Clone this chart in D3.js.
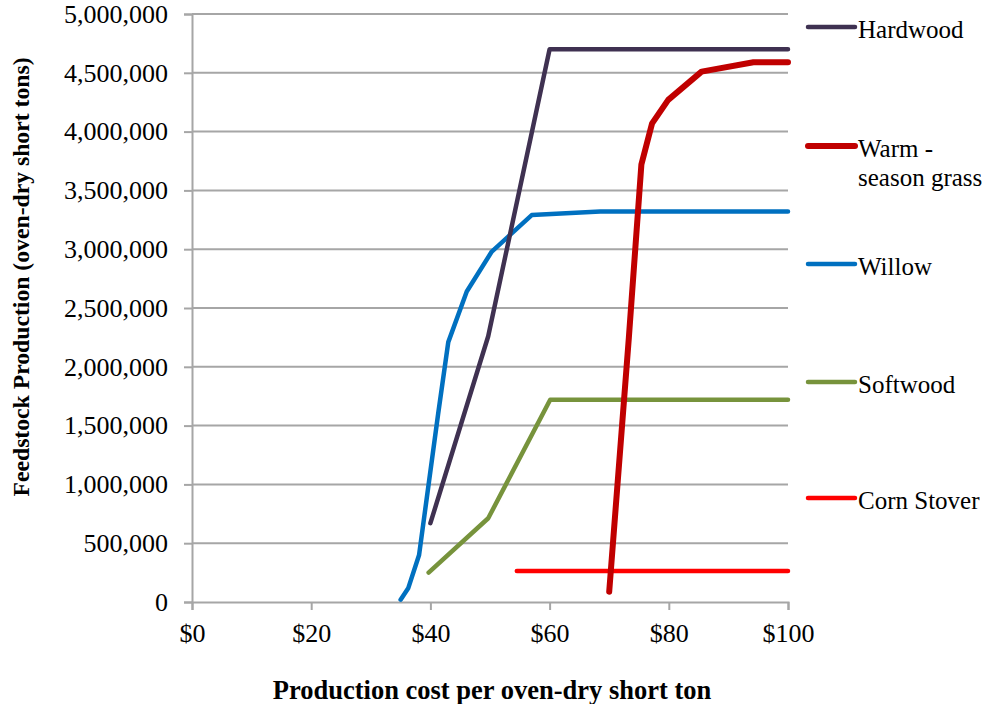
<!DOCTYPE html>
<html><head><meta charset="utf-8">
<script src="https://cdn.jsdelivr.net/npm/d3@7"></script>
<style>body{margin:0;background:#fff}svg{display:block}text{font-family:"Liberation Serif","Times New Roman",serif;fill:#000}</style>
</head><body><svg id="c" width="994" height="704"></svg>
<script>
const seriesNames = ["Hardwood", "Warm - season grass", "Willow", "Softwood", "Corn Stover"];
const seriesColors = ["#3f3151", "#c00000", "#0070c0", "#77933c", "#ff0000"];
const hardwoodX = [40, 49.7, 60, 100];
const hardwoodY = [670000, 2260000, 4700000, 4700000];
const warmX = [70, 73.3, 75.4, 77.2, 79.9, 85.5, 94.2, 100];
const warmY = [88000, 2250000, 3720000, 4070000, 4270000, 4510000, 4590000, 4590000];
const willowX = [35, 36.3, 38.1, 41.3, 43, 46.1, 50.3, 57, 68.5, 100];
const willowY = [20000, 120000, 400000, 1600000, 2210000, 2640000, 2980000, 3290000, 3320000, 3320000];
const softwoodX = [39.7, 49.7, 60.1, 100];
const softwoodY = [250000, 712000, 1720000, 1720000];
const cornX = [54.5, 100];
const cornY = [264000, 264000];
const xTicks = [0, 20, 40, 60, 80, 100];
const yTicks = [0, 500000, 1000000, 1500000, 2000000, 2500000, 3000000, 3500000, 4000000, 4500000, 5000000];

const svg = d3.select("#c");
const x = d3.scaleLinear().domain([0, 100]).range([192, 788]);
const y = d3.scaleLinear().domain([0, 5000000]).range([602, 14]);
const grey = "#a6a6a6";

// gridlines
svg.append("g").selectAll("line").data(yTicks.filter(d => d > 0)).join("line")
  .attr("x1", x(0)).attr("x2", x(100)).attr("y1", d => y(d)).attr("y2", d => y(d))
  .attr("stroke", grey).attr("stroke-width", 2);

// y axis
const yAxis = svg.append("g").attr("transform", `translate(${x(0)},0)`)
  .call(d3.axisLeft(y).tickValues(yTicks).tickFormat(d3.format(",")).tickSize(8).tickPadding(16));
yAxis.attr("font-family", null);
yAxis.select(".domain").attr("stroke", grey).attr("stroke-width", 2);
yAxis.selectAll(".tick line").attr("stroke", grey).attr("stroke-width", 2);
yAxis.selectAll(".tick text").attr("font-size", 26).attr("fill", "#000");

// x axis
const xAxis = svg.append("g").attr("transform", `translate(0,${y(0)})`)
  .call(d3.axisBottom(x).tickValues(xTicks).tickFormat(d => "$" + d).tickSize(8).tickPadding(14));
xAxis.attr("font-family", null);
xAxis.select(".domain").attr("stroke", grey).attr("stroke-width", 2);
xAxis.selectAll(".tick line").attr("stroke", grey).attr("stroke-width", 2);
xAxis.selectAll(".tick text").attr("font-size", 26).attr("fill", "#000");

// titles
svg.append("text").attr("x", 492).attr("y", 699).attr("text-anchor", "middle")
  .attr("font-size", 26.5).attr("font-weight", "bold").text("Production cost per oven-dry short ton");
svg.append("text").attr("transform", "translate(29,277) rotate(-90)").attr("text-anchor", "middle")
  .attr("font-size", 23.7).attr("font-weight", "bold").text("Feedstock Production (oven-dry short tons)");

// series
const series = [
  {xs: willowX, ys: willowY, c: seriesColors[2], w: 4.5},
  {xs: softwoodX, ys: softwoodY, c: seriesColors[3], w: 4.5},
  {xs: cornX, ys: cornY, c: seriesColors[4], w: 4.5},
  {xs: hardwoodX, ys: hardwoodY, c: seriesColors[0], w: 4.5},
  {xs: warmX, ys: warmY, c: seriesColors[1], w: 6}
];
const line = d3.line().x(d => x(d[0])).y(d => y(d[1]));
series.forEach(s => {
  svg.append("path").datum(s.xs.map((v, i) => [v, s.ys[i]]))
    .attr("d", line).attr("fill", "none").attr("stroke", s.c)
    .attr("stroke-width", s.w).attr("stroke-linecap", "round").attr("stroke-linejoin", "round");
});

// legend
const legY = [27, 146, 264, 382, 498];
const lg = svg.append("g");
seriesNames.forEach((n, i) => {
  lg.append("line").attr("x1", 808).attr("x2", 855).attr("y1", legY[i]).attr("y2", legY[i])
    .attr("stroke", seriesColors[i]).attr("stroke-width", i === 1 ? 6 : 4.5).attr("stroke-linecap", "round");
  const t = lg.append("text").attr("x", 858).attr("y", legY[i] + 11).attr("font-size", 25);
  if (i === 1) {
    t.append("tspan").attr("x", 858).text("Warm  -");
    t.append("tspan").attr("x", 858).attr("dy", 28.5).text("season grass");
  } else t.text(n);
});
</script></body></html>
